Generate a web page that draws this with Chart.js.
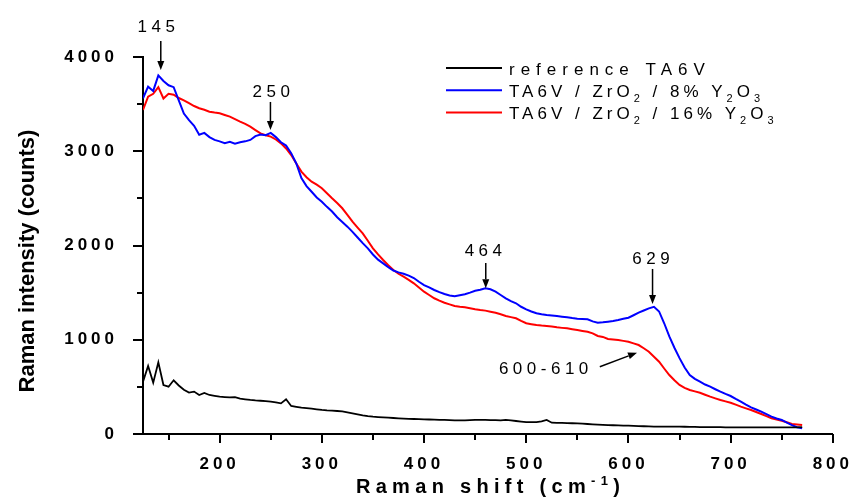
<!DOCTYPE html>
<html>
<head>
<meta charset="utf-8">
<script src="https://cdn.jsdelivr.net/npm/chart.js@4.4.1/dist/chart.umd.min.js"></script>
<style>
  html, body { margin: 0; padding: 0; background: #fff; }
  #wrap { width: 859px; height: 498px; position: relative; }
</style>
</head>
<body>
<div id="wrap"><canvas id="ramanChart"></canvas></div>
<script>
(function () {
  "use strict";

  // Raman shift (cm-1), one reading every 5 cm-1
  const shiftX = [
    125, 130, 135, 140, 145, 150, 155, 160, 165, 170,
    175, 180, 185, 190, 195, 200, 205, 210, 215, 220,
    225, 230, 235, 240, 245, 250, 255, 260, 265, 270,
    275, 280, 285, 290, 295, 300, 305, 310, 315, 320,
    325, 330, 335, 340, 345, 350, 355, 360, 365, 370,
    375, 380, 385, 390, 395, 400, 405, 410, 415, 420,
    425, 430, 435, 440, 445, 450, 455, 460, 465, 470,
    475, 480, 485, 490, 495, 500, 505, 510, 515, 520,
    525, 530, 535, 540, 545, 550, 555, 560, 565, 570,
    575, 580, 585, 590, 595, 600, 605, 610, 615, 620,
    625, 630, 635, 640, 645, 650, 655, 660, 665, 670,
    675, 680, 685, 690, 695, 700, 705, 710, 715, 720,
    725, 730, 735, 740, 745, 750, 755, 760, 765, 770
  ];

  // reference TA6V
  const countsRef = [
    555, 721, 545, 760, 520, 502, 570, 515, 470, 440,
    450, 414, 436, 414, 405, 396, 392, 389, 392, 375,
    368, 361, 356, 353, 348, 343, 335, 325, 368, 297,
    288, 279, 274, 269, 262, 255, 250, 248, 244, 240,
    230, 219, 208, 198, 190, 184, 180, 177, 173, 170,
    166, 163, 161, 159, 157, 156, 154, 152, 150, 149,
    147, 145, 145, 145, 147, 149, 149, 149, 148, 147,
    145, 149, 145, 138, 132, 127, 125, 127, 135, 149,
    120, 118, 117, 116, 114, 113, 110, 106, 102, 99,
    97, 95, 93, 91, 89, 88, 86, 84, 82, 80,
    79, 78, 78, 78, 78, 78, 77, 76, 75, 74,
    74, 73, 72, 72, 71, 71, 71, 70, 71, 70,
    71, 70, 70, 71, 70, 70, 71, 70, 71, 72
  ];

  // TA6V / ZrO2 / 8% Y2O3
  const counts8 = [
    3562, 3685, 3640, 3805, 3745, 3700, 3680, 3540, 3400, 3330,
    3270, 3175, 3195, 3150, 3120, 3105, 3085, 3100, 3080, 3095,
    3105, 3120, 3160, 3178, 3170, 3195, 3150, 3095, 3060, 2980,
    2870, 2715, 2630, 2570, 2510, 2465, 2410, 2360, 2300, 2250,
    2200, 2145, 2085, 2025, 1970, 1905, 1850, 1810, 1770, 1735,
    1715, 1700, 1680, 1655, 1615, 1580, 1555, 1528, 1505, 1485,
    1470, 1462, 1472, 1482, 1500, 1520, 1530, 1545, 1535, 1510,
    1475, 1440, 1410, 1387, 1350, 1323, 1300, 1281, 1270, 1263,
    1258, 1252, 1245, 1238, 1230, 1224, 1220, 1217, 1195, 1181,
    1185, 1192, 1200, 1210, 1222, 1234, 1260, 1287, 1310, 1333,
    1350, 1300, 1175, 1035, 915, 805, 705, 626, 585, 555,
    525, 502, 475, 449, 425, 403, 372, 343, 312, 283,
    260, 237, 210, 184, 165, 149, 120, 95, 72, 60
  ];

  // TA6V / ZrO2 / 16% Y2O3
  const counts16 = [
    3438, 3579, 3610, 3680, 3560, 3610, 3600, 3565, 3540, 3510,
    3480, 3456, 3440, 3420, 3410, 3403, 3385, 3367, 3340, 3314,
    3290, 3261, 3225, 3190, 3170, 3155, 3125, 3084, 3030, 2960,
    2870, 2784, 2725, 2677, 2645, 2607, 2555, 2501, 2450, 2395,
    2325, 2253, 2190, 2129, 2050, 1970, 1905, 1846, 1790, 1740,
    1700, 1669, 1635, 1599, 1555, 1510, 1475, 1440, 1415, 1393,
    1375, 1358, 1350, 1344, 1335, 1323, 1315, 1309, 1298, 1287,
    1270, 1252, 1240, 1228, 1200, 1175, 1165, 1156, 1150, 1146,
    1140, 1132, 1126, 1121, 1112, 1103, 1094, 1085, 1068, 1040,
    1030, 1008, 1002, 997, 988, 979, 962, 944, 910, 873,
    820, 767, 695, 626, 570, 520, 490, 467, 452, 438,
    417, 396, 378, 361, 346, 332, 311, 290, 272, 255,
    234, 212, 190, 167, 153, 141, 124, 106, 100, 95
  ];

  const xTickLabels = [200, 300, 400, 500, 600, 700, 800];
  const yTickLabels = [0, 1000, 2000, 3000, 4000];

  // peak marks: label, text centre / baseline, arrow tail, arrow head (data units)
  const peakText  = ['145', '250', '464', '629', '600-610'];
  const peakTextAt = [[138, 4265], [250.5, 3576], [458, 1889], [622, 1804], [517, 637]];
  const arrowFrom = [[142.4, 4170], [249.7, 3523], [460.4, 1814], [623.6, 1751], [572, 714]];
  const arrowTo   = [[142.4, 3862], [249.7, 3225], [460.4, 1546], [623.6, 1379], [608.4, 863]];

  const FONT = "'Liberation Sans', Arial, Helvetica, sans-serif";

  function toXY(ys) {
    return shiftX.map(function (x, i) { return { x: x, y: ys[i] }; });
  }

  // draw text pieces (for sub/superscripts), left aligned, returns width
  function drawParts(ctx, parts, x, y, weight, spacing, measureOnly) {
    let cx = x;
    ctx.letterSpacing = spacing + 'px';
    parts.forEach(function (p) {
      ctx.font = weight + ' ' + p[1] + 'px ' + FONT;
      if (!measureOnly) ctx.fillText(p[0], cx, y + p[2]);
      cx += ctx.measureText(p[0]).width;
    });
    return cx - x - spacing;
  }

  const legendRows = [
    { color: '#000000', spacing: 6, parts: [['reference TA6V', 17, 0]] },
    { color: '#0000ff', spacing: 4, parts: [['TA6V / ZrO', 17, 0], ['2', 11, 5], [' / 8% Y', 17, 0], ['2', 11, 5], ['O', 17, 0], ['3', 11, 5]] },
    { color: '#ff0000', spacing: 4, parts: [['TA6V / ZrO', 17, 0], ['2', 11, 5], [' / 16% Y', 17, 0], ['2', 11, 5], ['O', 17, 0], ['3', 11, 5]] }
  ];

  const decorPlugin = {
    id: 'decor',
    beforeDraw: function (chart) {
      chart.ctx.letterSpacing = '4px';
    },
    beforeDatasetsDraw: function (chart) {
      chart.ctx.letterSpacing = '0px';
    },
    afterDraw: function (chart) {
      const ctx = chart.ctx;
      const xs = chart.scales.x;
      const ys = chart.scales.y;
      const area = chart.chartArea;
      ctx.save();
      ctx.strokeStyle = '#000';
      ctx.fillStyle = '#000';
      ctx.textAlign = 'left';
      ctx.textBaseline = 'alphabetic';

      // tick marks
      ctx.lineWidth = 2;
      ctx.beginPath();
      xs.ticks.forEach(function (t) {
        const px = Math.round(xs.getPixelForValue(t.value));
        const len = xTickLabels.indexOf(t.value) >= 0 ? 9 : 6;
        ctx.moveTo(px, area.bottom);
        ctx.lineTo(px, area.bottom + len);
      });
      ys.ticks.forEach(function (t) {
        const py = Math.round(ys.getPixelForValue(t.value));
        const len = yTickLabels.indexOf(t.value) >= 0 ? 10 : 6;
        ctx.moveTo(area.left, py);
        ctx.lineTo(area.left - len, py);
      });
      ctx.stroke();

      // x axis title
      const xt = [['Raman shift (cm', 20, 0], ['-1', 13, -8], [')', 20, 0]];
      const xw = drawParts(ctx, xt, 0, 0, 'bold', 5.3, true);
      drawParts(ctx, xt, (area.left + area.right) / 2 - xw / 2, 493, 'bold', 5.3, false);

      // y axis title
      ctx.save();
      ctx.letterSpacing = '0px';
      ctx.translate(26, 261);
      ctx.rotate(-Math.PI / 2);
      ctx.textAlign = 'center';
      ctx.font = 'bold 22px ' + FONT;
      ctx.fillText('Raman intensity (counts)', 0, 8);
      ctx.restore();

      // legend
      legendRows.forEach(function (row, i) {
        const ly = 68 + i * 22.3;
        ctx.strokeStyle = row.color;
        ctx.lineWidth = 2;
        ctx.beginPath();
        ctx.moveTo(446, ly);
        ctx.lineTo(502, ly);
        ctx.stroke();
        ctx.fillStyle = '#000';
        drawParts(ctx, row.parts, 509, ly + 6.5, 'normal', row.spacing, false);
      });

      // peak labels and arrows
      ctx.strokeStyle = '#000';
      ctx.fillStyle = '#000';
      peakText.forEach(function (txt, i) {
        const parts = [[txt, 17, 0]];
        const w = drawParts(ctx, parts, 0, 0, 'normal', 4.5, true);
        const tx = xs.getPixelForValue(peakTextAt[i][0]);
        const ty = ys.getPixelForValue(peakTextAt[i][1]);
        drawParts(ctx, parts, tx - w / 2, ty, 'normal', 4.5, false);

        const x1 = xs.getPixelForValue(arrowFrom[i][0]);
        const y1 = ys.getPixelForValue(arrowFrom[i][1]);
        const x2 = xs.getPixelForValue(arrowTo[i][0]);
        const y2 = ys.getPixelForValue(arrowTo[i][1]);
        const ang = Math.atan2(y2 - y1, x2 - x1);
        const hl = 9, hw = 3.5;
        const bx = x2 - hl * Math.cos(ang);
        const by = y2 - hl * Math.sin(ang);
        ctx.lineWidth = 1.5;
        ctx.beginPath();
        ctx.moveTo(x1, y1);
        ctx.lineTo(bx, by);
        ctx.stroke();
        ctx.beginPath();
        ctx.moveTo(x2, y2);
        ctx.lineTo(bx + hw * Math.sin(ang), by - hw * Math.cos(ang));
        ctx.lineTo(bx - hw * Math.sin(ang), by + hw * Math.cos(ang));
        ctx.closePath();
        ctx.fill();
      });
      ctx.restore();
      ctx.letterSpacing = '0px';
    }
  };

  const ctxChart = document.getElementById('ramanChart').getContext('2d');
  new Chart(ctxChart, {
    type: 'line',
    data: {
      datasets: [
        {
          label: 'reference TA6V',
          data: toXY(countsRef),
          borderColor: '#000000',
          borderWidth: 1.8
        },
        {
          label: 'TA6V / ZrO2 / 8% Y2O3',
          data: toXY(counts8),
          borderColor: '#0000ff',
          borderWidth: 2
        },
        {
          label: 'TA6V / ZrO2 / 16% Y2O3',
          data: toXY(counts16),
          borderColor: '#ff0000',
          borderWidth: 2
        }
      ]
    },
    options: {
      responsive: true,
      maintainAspectRatio: false,
      animation: false,
      devicePixelRatio: 1,
      layout: { padding: { top: 57, right: 18, left: 0, bottom: 0 } },
      elements: {
        point: { radius: 0 },
        line: { tension: 0, fill: false }
      },
      plugins: {
        legend: { display: false },
        tooltip: { enabled: false }
      },
      scales: {
        x: {
          type: 'linear',
          min: 125,
          max: 800,
          grid: { display: false },
          border: { display: true, color: '#000', width: 2 },
          ticks: {
            stepSize: 50,
            includeBounds: false,
            autoSkip: false,
            maxRotation: 0,
            padding: 12,
            color: '#000',
            font: { family: FONT, size: 17, weight: 'bold' },
            callback: function (value) {
              return xTickLabels.indexOf(value) >= 0 ? String(value) : '';
            }
          },
          afterFit: function (scale) { scale.height = 64; }
        },
        y: {
          min: 0,
          max: 4000,
          grid: { display: false },
          border: { display: true, color: '#000', width: 2 },
          ticks: {
            stepSize: 500,
            autoSkip: false,
            padding: 17,
            color: '#000',
            font: { family: FONT, size: 17, weight: 'bold' },
            callback: function (value) {
              return yTickLabels.indexOf(value) >= 0 ? String(value) : '';
            }
          },
          afterFit: function (scale) { scale.width = 143; }
        }
      }
    },
    plugins: [decorPlugin]
  });
})();
</script>
</body>
</html>
